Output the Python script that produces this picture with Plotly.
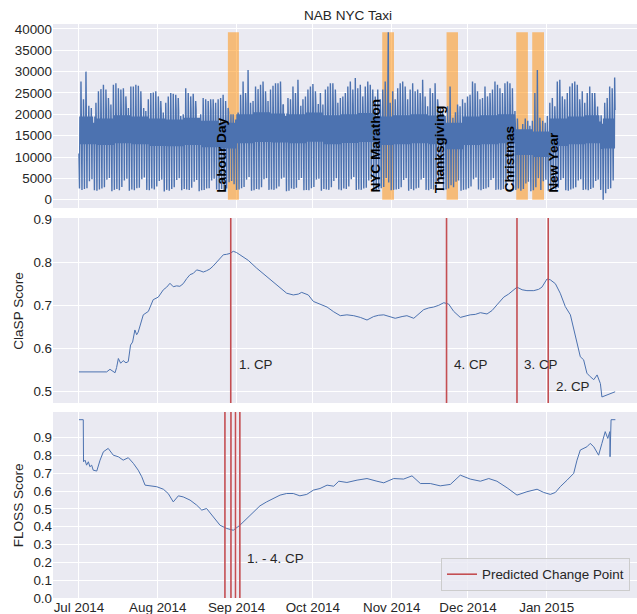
import numpy as np
import pandas as pd
import plotly.graph_objects as go
from plotly.subplots import make_subplots

# ------------------------------------------------------------------ data
axis_start = "2014-07-01"
taxi_axis_end = "2015-01-27 21:36"   # where the last taxi sample sits on the plotted axis

# NYC taxi passengers: one evening peak and one night low per day
daily_peak = [
    27700, 23500, 30000, 18500, 17300, 16900, 22700, 25400, 25900, 26900,
    25800, 23800, 22300, 26900, 27300, 26100, 25800, 26100, 24200, 21500,
    26500, 26500, 26900, 26700, 25400, 20800, 20800, 23500, 25000, 25100,
    25400, 24200, 23100, 20400, 22700, 24200, 25000, 24800, 24600, 23800,
    19600, 20000, 26100, 25000, 24200, 24800, 23100, 19200, 20000, 23800,
    23500, 23100, 23500, 23500, 22700, 23500, 23800, 24600, 23100, 21500,
    19600, 20000, 18800, 20400, 24600, 27700, 25000, 30400, 22700, 23100,
    26500, 25900, 26900, 27700, 25400, 23100, 25800, 26700, 27300, 27300,
    27700, 22300, 19600, 23800, 23500, 26500, 25000, 28100, 21900, 23500,
    24200, 25800, 26500, 27100, 25400, 19200, 25000, 22300, 25800, 26500,
    27300, 27300, 25800, 22700, 23800, 24200, 25000, 26500, 27700, 25800,
    28500, 26100, 26900, 24200, 26500, 27700, 26900, 25800, 24200, 25800,
    23500, 25800, 27700, 29200, 22700, 25400, 23500, 26100, 27300, 27700,
    26500, 23500, 25800, 27300, 25400, 25800, 25000, 28100, 24200, 21900,
    26100, 25000, 27300, 23500, 21500, 20400, 19600, 21900, 26500, 16500,
    19500, 22300, 21900, 23500, 22700, 24200, 24600, 27700, 27300, 25400,
    23500, 23800, 26500, 24200, 25000, 25800, 27700, 26900, 26100, 25000,
    27300, 27700, 27300, 26100, 20800, 19000, 16500, 16900, 18800, 16900,
    17300, 18500, 25000, 30400, 19200, 17700, 16900, 19600, 22700, 23800,
    21900, 27700, 28100, 24200, 23500, 25000, 26500, 27300, 27700, 26900,
    23500, 25400, 22700, 25000, 26500, 25000, 25000, 18100, 15400, 11900,
    22700, 23800, 26500, 26100, 28600,
]
daily_low = [
    2600, 2300, 2500, 2700, 4300, 4800, 2200,
    2100, 2400, 2600, 2900, 4700, 5100, 2000,
    2300, 2500, 2200, 3000, 4500, 4900, 2100,
    2400, 2200, 2700, 2800, 4800, 5200, 2300,
    2200, 2600, 2400, 3100, 4400, 4700, 1900,
    2300, 2100, 2500, 2900, 4600, 5000, 2200,
    2500, 2400, 2300, 2800, 4200, 4600, 2000,
    2200, 2300, 2600, 2700, 4500, 4900, 2400,
    2100, 2500, 2200, 2600, 4100, 4400, 3600,
    2300, 2400, 2700, 3000, 4700, 5300, 2100,
    2200, 2500, 2400, 2900, 4800, 5000, 2300,
    2400, 2300, 2600, 3100, 4900, 5200, 2000,
    2100, 2600, 2500, 2800, 4600, 5100, 2200,
    2300, 2200, 2700, 3000, 4700, 4900, 2100,
    2500, 2400, 2300, 2900, 4400, 5000, 2400,
    2200, 2600, 2500, 3100, 4800, 5300, 2300,
    2400, 2300, 2600, 2800, 4500, 4800, 2000,
    2100, 2500, 2700, 3000, 5100, 4000, 2200,
    2300, 2400, 2500, 2900, 4600, 5000, 2100,
    2500, 2200, 2600, 2800, 4700, 5100, 2300,
    2200, 2500, 2400, 3000, 4400, 4900, 2200,
    2400, 2600, 3400, 2900, 4200, 4500, 2100,
    2300, 2400, 2700, 3100, 4800, 5200, 2400,
    2200, 2500, 2600, 2900, 4600, 5000, 2300,
    2400, 2300, 2500, 3000, 4700, 4900, 2200,
    2300, 2600, 2100, 2500, 3800, 4200, 2000,
    2200, 2900, 5000, 2300, 4300, 4700, 2100,
    2300, 2500, 2400, 2800, 4600, 5000, 2200,
    2100, 2400, 2600, 2900, 4500, 4800, 2300,
    2400, 2200, 2500, 2800, 4400, 4700, 2300,
    8, 1500, 2500, 2700, 4500,
]
# upper / lower edge of the dense daytime band, one value per week
weekly_core_hi = [19500, 19000, 19800, 19500, 19000, 18800, 19200, 18500, 18000, 20000,
                  20500, 20200, 20000, 20400, 19800, 20000, 20300, 19500, 19800, 20000,
                  19700, 18000, 19500, 19800, 20000, 16500, 16000, 19000, 19500, 19800, 19000]
weekly_core_lo = [13000, 12800, 13200, 13000, 12600, 12500, 12800, 12300, 12000, 13200,
                  13500, 13400, 13200, 13600, 13000, 13300, 13500, 12800, 13000, 13200,
                  13000, 11800, 12800, 13000, 13200, 10500, 10000, 12600, 13000, 13200, 12000]
# late-evening level shift by weekday (Tue ... Mon)
weekday_late_shift = [-500, 0, 1200, 2500, 2000, -1500, -2000]
# time of day of: night low, morning, afternoon dip, evening peak, late evening
intraday_frac = [0.21, 0.38, 0.69, 0.81, 0.96]
# single samples: first sample of the series and the DST-night maximum
event_day = [0.0, 124.04]
event_val = [10844, 39197]

# ClaSP score profile (days after 1 Jul on the plotted axis)
clasp_day = [0.0, 10.9, 12.2, 13.2, 14.2, 14.8, 15.5, 16.4, 17.4, 18.5,
             19.4, 20.3, 21.1, 22.0, 22.7, 23.3, 24.3, 25.3, 27.3, 29.2,
             31.2, 33.2, 34.5, 35.8, 37.1, 38.4, 39.7, 41.0, 42.4, 43.7,
             45.0, 46.3, 47.6, 48.9, 50.2, 51.5, 52.8, 54.2, 55.5, 56.8,
             58.1, 59.4, 60.7, 62.0, 63.3, 66.6, 69.9, 71.9, 73.8, 76.4,
             79.1, 81.7, 84.3, 86.3, 87.6, 90.2, 92.2, 94.8, 97.6, 100.2,
             102.8, 105.4, 108.1, 110.7, 113.3, 115.9, 117.9, 119.9, 122.5, 124.4,
             127.1, 129.0, 131.7, 133.6, 135.6, 137.6, 139.5, 141.5, 143.5, 145.4,
             147.4, 150.0, 152.0, 153.9, 155.9, 157.9, 160.5, 162.5, 164.4, 167.1,
             169.0, 171.0, 172.3, 174.3, 176.2, 178.9, 180.8, 182.1, 184.1, 185.4,
             186.7, 187.4, 189.3, 191.3, 193.3, 194.6, 195.9, 197.2, 198.5, 199.8,
             201.1, 202.5, 203.8, 205.1, 205.7, 210.9]
clasp_val = [0.546, 0.546, 0.552, 0.548, 0.544, 0.556, 0.577, 0.566, 0.572, 0.567,
             0.570, 0.608, 0.615, 0.643, 0.632, 0.638, 0.660, 0.678, 0.686, 0.713,
             0.719, 0.736, 0.742, 0.751, 0.743, 0.745, 0.744, 0.750, 0.762, 0.771,
             0.774, 0.782, 0.780, 0.777, 0.780, 0.784, 0.791, 0.800, 0.810, 0.817,
             0.818, 0.820, 0.825, 0.822, 0.817, 0.804, 0.786, 0.776, 0.767, 0.755,
             0.740, 0.728, 0.724, 0.726, 0.730, 0.724, 0.709, 0.703, 0.696, 0.685,
             0.676, 0.678, 0.676, 0.672, 0.666, 0.674, 0.677, 0.678, 0.674, 0.670,
             0.674, 0.676, 0.670, 0.680, 0.690, 0.694, 0.696, 0.700, 0.706, 0.703,
             0.686, 0.672, 0.675, 0.678, 0.679, 0.683, 0.680, 0.688, 0.701, 0.719,
             0.726, 0.736, 0.742, 0.736, 0.734, 0.734, 0.737, 0.742, 0.761, 0.759,
             0.754, 0.750, 0.728, 0.697, 0.678, 0.643, 0.612, 0.581, 0.574, 0.543,
             0.535, 0.528, 0.539, 0.519, 0.488, 0.500]

# FLOSS score profile
floss_day = [0.0, 1.7, 1.8, 2.4, 3.0, 3.7, 4.3, 5.0, 5.6, 7.0,
             8.3, 9.6, 11.5, 13.5, 15.5, 17.4, 19.4, 21.4, 23.3, 24.7,
             26.0, 27.9, 30.6, 33.2, 35.1, 37.1, 39.1, 41.0, 43.7, 46.3,
             48.3, 50.2, 52.8, 55.5, 58.1, 60.7, 63.3, 66.0, 68.6, 71.2,
             73.8, 76.4, 79.1, 81.7, 84.3, 86.9, 89.6, 92.2, 94.8, 97.6,
             100.2, 102.2, 105.4, 109.4, 113.3, 117.2, 119.9, 123.8, 127.7, 131.0,
             134.3, 138.2, 142.1, 146.1, 150.0, 153.9, 157.9, 161.2, 164.4, 168.4,
             172.3, 176.2, 180.2, 182.8, 185.4, 187.4, 189.3, 192.0, 194.6, 195.9,
             197.2, 199.8, 201.1, 202.5, 204.4, 205.7, 207.0, 208.0, 208.8, 208.9,
             209.3, 211.0]
floss_val = [1.0, 1.0, 0.764, 0.773, 0.745, 0.764, 0.736, 0.745, 0.717, 0.712,
             0.773, 0.820, 0.839, 0.801, 0.792, 0.773, 0.787, 0.755, 0.717, 0.680,
             0.633, 0.629, 0.624, 0.610, 0.586, 0.539, 0.573, 0.567, 0.549, 0.521,
             0.493, 0.502, 0.455, 0.408, 0.390, 0.380, 0.408, 0.446, 0.483, 0.517,
             0.539, 0.558, 0.577, 0.586, 0.586, 0.573, 0.581, 0.605, 0.614, 0.633,
             0.627, 0.655, 0.648, 0.661, 0.670, 0.655, 0.646, 0.670, 0.667, 0.685,
             0.642, 0.642, 0.629, 0.637, 0.689, 0.667, 0.655, 0.670, 0.655, 0.618,
             0.577, 0.596, 0.610, 0.592, 0.581, 0.592, 0.624, 0.661, 0.699, 0.773,
             0.830, 0.848, 0.867, 0.848, 0.801, 0.867, 0.933, 0.895, 0.933, 0.792,
             1.0, 1.0]

holiday_names = ["Labour Day", "NYC Marathon", "Thanksgiving", "Christmas", "New Year"]
holiday_start = ["2014-08-28 14:00", "2014-10-28 07:00", "2014-11-22 14:00",
                 "2014-12-20 00:00", "2014-12-26 07:00"]
holiday_end = ["2014-09-01 22:00", "2014-11-01 22:00", "2014-11-27 02:00",
               "2014-12-24 14:00", "2014-12-30 22:00"]
holiday_label_x = ["2014-08-26 02:00", "2014-10-25 19:00", "2014-11-19 19:00",
                   "2014-12-17 10:00", "2015-01-03 17:00"]

clasp_cps = ["2014-08-29 17:00", "2015-01-01 14:00", "2014-12-20 07:00", "2014-11-22 14:00"]
clasp_cp_labels = ["1. CP", "2. CP", "3. CP", "4. CP"]
clasp_cp_label_x = ["2014-09-01 07:00", "2015-01-03 17:00", "2014-12-22 07:00", "2014-11-24 17:00"]
clasp_cp_label_y = [0.563, 0.5125, 0.563, 0.563]

floss_cps = ["2014-08-27 10:00", "2014-08-29 19:00", "2014-08-31 14:00", "2014-09-02 07:00"]
floss_cp_label = "1. - 4. CP"
floss_cp_label_x = "2014-09-04 07:00"
floss_cp_label_y = 0.221

month_ticks = ["2014-07-01", "2014-08-01", "2014-09-01", "2014-10-01",
               "2014-11-01", "2014-12-01", "2015-01-01"]
month_labels = ["Jul 2014", "Aug 2014", "Sep 2014", "Oct 2014",
                "Nov 2014", "Dec 2014", "Jan 2015"]

# ------------------------------------------------------------------ build series
n_days = min(len(daily_peak), len(daily_low))
t_real, v_real = [], []
for r in range(n_days):
    w = min(r // 7, len(weekly_core_hi) - 1)
    late = weekly_core_hi[w] + weekday_late_shift[r % 7]
    vals = [daily_low[r], weekly_core_hi[w], weekly_core_lo[w], daily_peak[r], late]
    for f, val in zip(intraday_frac, vals):
        t_real.append(r + f)
        v_real.append(val)
t_real += event_day
v_real += event_val
order = np.argsort(t_real)
t_real = np.asarray(t_real)[order]
v_real = np.asarray(v_real)[order]

start = pd.Timestamp(axis_start)
sec_per_day = (pd.Timestamp(taxi_axis_end) - start).total_seconds() / n_days
taxi_x = start + pd.to_timedelta(t_real * sec_per_day, unit="s")

def to_dates(days):
    return start + pd.to_timedelta(np.asarray(days, dtype=float), unit="D")

nc = min(len(clasp_day), len(clasp_val))
nf = min(len(floss_day), len(floss_val))
clasp_x = to_dates(clasp_day[:nc])
floss_x = to_dates(floss_day[:nf])

# ------------------------------------------------------------------ figure
BLUE = "#4C72B0"
RED = "#C44E52"
BG = "#EAEAF2"
TXT = "#262626"
FONT = "Liberation Sans, Arial, sans-serif"
FS = 13.4

fig = make_subplots(rows=3, cols=1, shared_xaxes=True)

fig.add_trace(go.Scatter(x=taxi_x, y=v_real, mode="lines",
                         line=dict(color=BLUE, width=1.4), showlegend=False), row=1, col=1)
fig.add_trace(go.Scatter(x=clasp_x, y=clasp_val[:nc], mode="lines",
                         line=dict(color=BLUE, width=1.0), showlegend=False), row=2, col=1)
fig.add_trace(go.Scatter(x=floss_x, y=floss_val[:nf], mode="lines",
                         line=dict(color=BLUE, width=1.0), showlegend=False), row=3, col=1)
fig.add_trace(go.Scatter(x=[None], y=[None], mode="lines", line=dict(color=RED, width=1.6),
                         name="Predicted Change Point", showlegend=True), row=3, col=1)

vmax = float(np.max(v_real))
vmin = float(np.min(v_real))
pad = 0.05 * (vmax - vmin)

# holiday spans
for s, e in zip(holiday_start, holiday_end):
    fig.add_shape(type="rect", xref="x", yref="y", x0=s, x1=e, y0=0, y1=vmax,
                  fillcolor="darkorange", opacity=0.5, line=dict(width=0), layer="between")

annotations = []
for name, lx in zip(holiday_names, holiday_label_x):
    annotations.append(dict(x=lx, y=0, xref="x", yref="y", text=name, textangle=-90,
                            showarrow=False, xanchor="center", yanchor="bottom", yshift=5,
                            font=dict(family=FONT, size=13.6, color="black", weight="bold")))

# change points
for cp in clasp_cps:
    fig.add_shape(type="line", xref="x2", yref="y2 domain", x0=cp, x1=cp, y0=0, y1=1,
                  line=dict(color=RED, width=1.6))
for cp in floss_cps:
    fig.add_shape(type="line", xref="x3", yref="y3 domain", x0=cp, x1=cp, y0=0, y1=1,
                  line=dict(color=RED, width=1.6))

for lab, lx, ly in zip(clasp_cp_labels, clasp_cp_label_x, clasp_cp_label_y):
    annotations.append(dict(x=lx, y=ly, xref="x2", yref="y2", text=lab, showarrow=False,
                            xanchor="left", yanchor="middle",
                            font=dict(family=FONT, size=FS, color=TXT)))
annotations.append(dict(x=floss_cp_label_x, y=floss_cp_label_y, xref="x3", yref="y3",
                        text=floss_cp_label, showarrow=False, xanchor="left", yanchor="middle",
                        font=dict(family=FONT, size=FS, color=TXT)))

# axis titles
annotations.append(dict(x=-0.0594, y=0.5, xref="paper", yref="y2 domain", text="ClaSP Score",
                        textangle=-90, showarrow=False, xanchor="center", yanchor="middle",
                        font=dict(family=FONT, size=13.6, color=TXT)))
annotations.append(dict(x=-0.0594, y=0.5, xref="paper", yref="y3 domain", text="FLOSS Score",
                        textangle=-90, showarrow=False, xanchor="center", yanchor="middle",
                        font=dict(family=FONT, size=13.6, color=TXT)))

x_range = ["2014-06-20 19:00", "2015-02-05 12:00"]
xcommon = dict(range=x_range, showgrid=True, gridcolor="white", gridwidth=1.2,
               tickvals=month_ticks, ticktext=month_labels, zeroline=False, showline=False,
               ticks="", tickfont=dict(family=FONT, size=FS, color=TXT))
ycommon = dict(showgrid=True, gridcolor="white", gridwidth=1.2, zeroline=False, showline=False,
               ticks="", tickfont=dict(family=FONT, size=FS, color=TXT), automargin=False)

fig.update_layout(
    width=637, height=614,
    margin=dict(l=53, r=0, t=24, b=16),
    paper_bgcolor="white", plot_bgcolor=BG,
    font=dict(family=FONT, size=FS, color=TXT),
    title=dict(text="NAB NYC Taxi", x=348 / 637, xref="container", xanchor="center",
               y=1 - 15 / 614, yref="container", yanchor="middle",
               font=dict(family=FONT, size=13.6, color=TXT)),
    xaxis=dict(**xcommon, showticklabels=False, automargin=False),
    xaxis2=dict(**xcommon, showticklabels=False, automargin=False),
    xaxis3=dict(**xcommon, showticklabels=True, automargin=False, ticklabelstandoff=0),
    yaxis=dict(**ycommon, domain=[0.6794, 1.0], range=[vmin - pad, vmax + pad],
               tick0=0, dtick=5000, tickformat="d"),
    yaxis2=dict(**ycommon, domain=[0.3397, 0.662], range=[0.474, 0.902],
                tickvals=[0.5, 0.6, 0.7, 0.8, 0.9], tickformat=".1f"),
    yaxis3=dict(**ycommon, domain=[0.0, 0.324], range=[0.0, 1.043],
                tickvals=[0.0, 0.1, 0.2, 0.3, 0.4, 0.5, 0.6, 0.7, 0.8, 0.9], tickformat=".1f"),
    legend=dict(x=0.988, y=0.0122, xanchor="right", yanchor="bottom",
                bgcolor="rgba(234,234,242,0.8)", bordercolor="#cccccc", borderwidth=1,
                font=dict(family=FONT, size=FS, color=TXT)),
    annotations=annotations,
)

fig.write_html("out.html", config={"displayModeBar": False},
               post_script="document.body.style.margin='0px';document.body.style.padding='0px';"
                           "document.body.style.overflow='hidden';")
